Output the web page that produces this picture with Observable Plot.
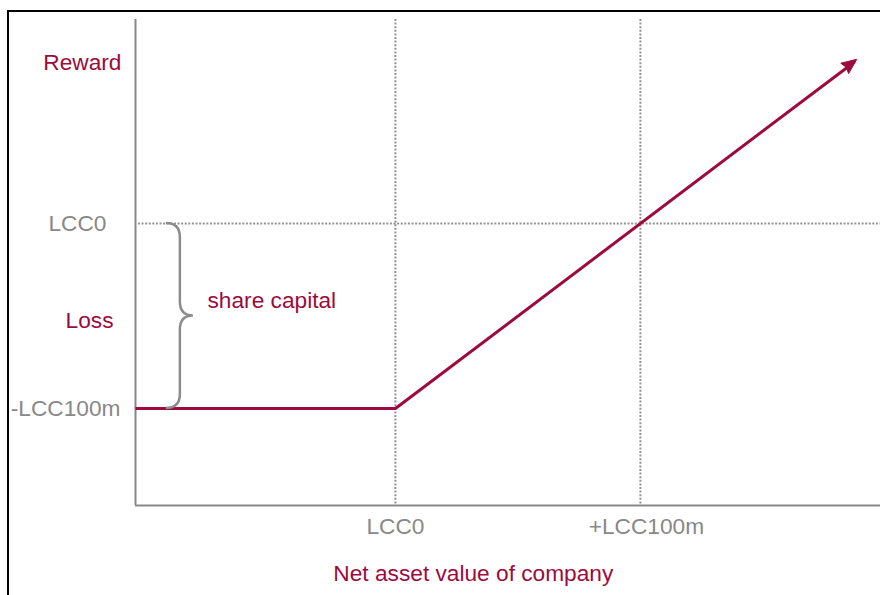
<!DOCTYPE html>
<html>
<head>
<meta charset="utf-8">
<script src="https://cdn.jsdelivr.net/npm/d3@7"></script>
<script src="https://cdn.jsdelivr.net/npm/@observablehq/plot@0.6"></script>
<style>
  html, body { margin: 0; padding: 0; background: #fff; width: 880px; height: 595px; overflow: hidden; }
  #wrap { position: relative; width: 880px; height: 595px; }
  #frame { position: absolute; left: 7px; top: 10px; width: 900px; height: 700px; border: 2px solid #000; pointer-events: none; }
</style>
</head>
<body>
<div id="wrap"><div id="frame"></div></div>
<script>
// ---- data ----
const xDomain = [-106.1, 198];
const yDomain = [-152.4, 110.3];
const xTickValues = [0, 100];
const xTickLabels = ["LCC0", "+LCC100m"];
const yTickValues = [0, -100];
const yTickLabels = ["LCC0", "-LCC100m"];
const sideLabels = ["Reward", "Loss"];
const sideValues = [87, -52.4];
const payoffX = [-106.1, 0, 187.5];
const payoffY = [-100, -100, 87.5];
const braceLabel = "share capital";
const braceAnchor = { x: -93.5, yTop: 0, yBottom: -100, labelX: -76.7, labelY: -41.6 };
const xTitle = "Net asset value of company";
const xTitleAt = 31.8;

const RED = "#9d0a3c";
const GREY = "#888888";
const DOT = "#939393";
const FONT = "'Liberation Sans', Arial, sans-serif";
const FS = 22.7;

const payoff = payoffX.map((x, i) => ({ x, y: payoffY[i] }));
const xTicks = xTickValues.map((v, i) => ({ v, label: xTickLabels[i] }));
const yTicks = yTickValues.map((v, i) => ({ v, label: yTickLabels[i] }));
const sides = sideValues.map((v, i) => ({ v, label: sideLabels[i] }));

const plot = Plot.plot({
  width: 880,
  height: 595,
  marginLeft: 135,
  marginRight: 0,
  marginTop: 19,
  marginBottom: 90,
  style: { background: "transparent", fontFamily: FONT, overflow: "visible" },
  x: { domain: xDomain, axis: null },
  y: { domain: yDomain, axis: null },
  marks: [
    // dotted reference lines
    Plot.ruleX(xTickValues, { stroke: DOT, strokeWidth: 2, strokeDasharray: "2,1.6" }),
    Plot.ruleY([yTickValues[0]], { x1: xDomain[0] + 1.2, x2: xDomain[1], stroke: DOT, strokeWidth: 2, strokeDasharray: "2,1.6" }),
    // axes lines
    Plot.ruleX([xDomain[0]], { stroke: GREY, strokeWidth: 2 }),
    Plot.ruleY([yDomain[0]], { stroke: GREY, strokeWidth: 2 }),
    // payoff line
    Plot.line(payoff, { x: "x", y: "y", stroke: RED, strokeWidth: 3, strokeLinecap: "butt", strokeLinejoin: "miter" }),
    // y tick labels
    Plot.text(yTicks.slice(0, 1), { x: () => xDomain[0], y: "v", text: "label", textAnchor: "end", dx: -29, fill: GREY, fontSize: FS }),
    Plot.text(yTicks.slice(1), { x: () => xDomain[0], y: "v", text: "label", textAnchor: "end", dx: -15, fill: GREY, fontSize: FS }),
    // side labels
    Plot.text(sides.slice(0, 1), { x: () => xDomain[0], y: "v", text: "label", textAnchor: "end", dx: -14, fill: RED, fontSize: FS }),
    Plot.text(sides.slice(1), { x: () => xDomain[0], y: "v", text: "label", textAnchor: "end", dx: -22, fill: RED, fontSize: FS }),
    // x tick labels
    Plot.text(xTicks.slice(0, 1), { x: "v", y: () => yDomain[0], text: "label", lineAnchor: "top", dy: 11.9, fill: GREY, fontSize: FS }),
    Plot.text(xTicks.slice(1), { x: "v", y: () => yDomain[0], text: "label", lineAnchor: "top", dx: 6, dy: 11.9, fill: GREY, fontSize: FS }),
    // x title
    Plot.text([xTitle], { x: () => xTitleAt, y: () => yDomain[0], text: d => d, lineAnchor: "top", dy: 58.9, fill: RED, fontSize: FS }),
    // brace label
    Plot.text([braceLabel], { x: () => braceAnchor.labelX, y: () => braceAnchor.labelY, text: d => d, textAnchor: "start", fill: RED, fontSize: FS })
  ]
});

const sx = plot.scale("x"), sy = plot.scale("y");

// curly brace drawn from scale-mapped anchor values
const x0 = sx.apply(braceAnchor.x);
const yT = sy.apply(braceAnchor.yTop), yB = sy.apply(braceAnchor.yBottom);
const yM = (yT + yB) / 2;
const x1 = x0 + 14, xt = x0 + 27, r = 14;
const path = d3.path();
path.moveTo(x0, yT);
path.quadraticCurveTo(x1, yT, x1, yT + r);
path.lineTo(x1, yM - r);
path.quadraticCurveTo(x1, yM, xt, yM);
path.quadraticCurveTo(x1, yM, x1, yM + r);
path.lineTo(x1, yB - r);
path.quadraticCurveTo(x1, yB, x0, yB);
d3.select(plot).append("path")
  .attr("d", path.toString())
  .attr("fill", "none")
  .attr("stroke", "#8c8c8c")
  .attr("stroke-width", 2.5);

// filled arrowhead at the end of the payoff line
const n = payoff.length;
const ex = sx.apply(payoff[n - 1].x), ey = sy.apply(payoff[n - 1].y);
const bx = sx.apply(payoff[n - 2].x), by = sy.apply(payoff[n - 2].y);
const len = Math.hypot(ex - bx, ey - by);
const ux = (ex - bx) / len, uy = (ey - by) / len;
const tipX = ex + 3 * ux, tipY = ey + 3 * uy;
const L = 15, W = 6.5;
const baseX = tipX - L * ux, baseY = tipY - L * uy;
d3.select(plot).append("path")
  .attr("d", `M${tipX},${tipY}L${baseX - W * uy},${baseY + W * ux}L${baseX + 2 * ux},${baseY + 2 * uy}L${baseX + W * uy},${baseY - W * ux}Z`)
  .attr("fill", RED)
  .attr("stroke", RED)
  .attr("stroke-width", 1)
  .attr("stroke-linejoin", "miter");

document.getElementById("wrap").insertBefore(plot, document.getElementById("frame"));
plot.style.position = "absolute";
plot.style.left = "0px";
plot.style.top = "0px";
</script>
</body>
</html>
